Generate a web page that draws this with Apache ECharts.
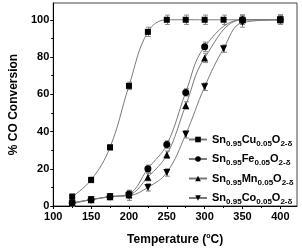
<!DOCTYPE html>
<html><head><meta charset="utf-8">
<script src="https://cdn.jsdelivr.net/npm/echarts@6/dist/echarts.min.js"></script>
<style>html,body{margin:0;padding:0;background:#fff}#c{width:302px;height:251px}</style>
</head><body><div id="c"></div>
<script>
// Data
const cuTemps = [125, 150, 175, 200, 225, 250, 275, 300, 325, 350, 400];
const cuValues = [5, 14, 31.5, 64.5, 93.5, 100, 100, 100, 100, 100, 100];
const cuErrors = [1.5, 1.5, 1.5, 2, 2.5, 2.5, 2.5, 2.5, 2.5, 2.5, 2.5];

const feTemps = [125, 150, 175, 200, 225, 250, 275, 300, 350, 400];
const feValues = [1.7, 3.4, 5, 6.5, 20, 33, 61, 85.5, 100, 100];
const feErrors = [1.5, 1.5, 1.5, 2, 2, 2, 2, 2.5, 2.5, 2.5];

const mnTemps = [125, 150, 175, 200, 225, 250, 275, 300, 350, 400];
const mnValues = [1.7, 3.4, 5, 6, 15.5, 27.5, 54, 79.5, 100, 100];
const mnErrors = [1.5, 1.5, 1.5, 2, 2, 2, 2, 2.5, 2.5, 2.5];

const coTemps = [125, 150, 175, 200, 225, 250, 275, 300, 325, 350, 400];
const coValues = [1.2, 3.4, 5, 5.5, 10, 18, 38.5, 64, 84.5, 98.5, 100];
const coErrors = [1.5, 1.5, 1.5, 2.5, 2, 2, 2, 2, 2, 2.5, 2.5];

const seriesNames = ['Cu', 'Fe', 'Mn', 'Co'];
const xTickLabels = [100, 150, 200, 250, 300, 350, 400];
const xMinorTicks = [125, 175, 225, 275, 325, 375];
const yTickLabels = [0, 20, 40, 60, 80, 100];
const yMinorTicks = [10, 30, 50, 70, 90];

const legendName = el => 'Sn0.95' + el + '0.05O2-δ';
const legendRich = el => '{n|Sn}{s|0.95}{n|' + el + '}{s|0.05}{n|O}{s|2-δ}';

const FONT = 'Liberation Sans, Arial, sans-serif';
const LINE = '#7a7a7a';

function pairs(xs, ys) { return xs.map((x, i) => [x, ys[i]]); }
function triples(xs, ys, es) { return xs.map((x, i) => [x, ys[i], es[i]]); }

const symbols = {
  Cu: { symbol: 'rect', size: 6 },
  Fe: { symbol: 'circle', size: 7 },
  Mn: { symbol: 'triangle', size: 7 },
  Co: { symbol: 'path://M0,0 L10,0 L5,9 Z', size: 7 }
};
const dataSets = {
  Cu: [cuTemps, cuValues, cuErrors],
  Fe: [feTemps, feValues, feErrors],
  Mn: [mnTemps, mnValues, mnErrors],
  Co: [coTemps, coValues, coErrors]
};

const series = [];
seriesNames.forEach(el => {
  const [xs, ys, es] = dataSets[el];
  series.push({
    type: 'custom',
    silent: true,
    z: 1,
    data: triples(xs, ys, es),
    renderItem: function (params, api) {
      const x = api.value(0), y = api.value(1), e = api.value(2);
      const lo = api.coord([x, y - e]);
      const hi = api.coord([x, y + e]);
      const st = { stroke: '#8a8a8a', lineWidth: 1 };
      const cx = Math.round(lo[0]) + 0.5;
      return {
        type: 'group',
        children: [
          { type: 'line', shape: { x1: cx, y1: lo[1], x2: cx, y2: hi[1] }, style: st },
          { type: 'line', shape: { x1: cx - 2.5, y1: lo[1], x2: cx + 2.5, y2: lo[1] }, style: st },
          { type: 'line', shape: { x1: cx - 2.5, y1: hi[1], x2: cx + 2.5, y2: hi[1] }, style: st }
        ]
      };
    }
  });
});
seriesNames.forEach(el => {
  const [xs, ys] = dataSets[el];
  series.push({
    name: legendName(el),
    type: 'line',
    z: 3,
    data: pairs(xs, ys),
    smooth: 0.4,
    symbol: symbols[el].symbol,
    symbolSize: symbols[el].size,
    showAllSymbol: true,
    itemStyle: { color: '#000' },
    lineStyle: { color: LINE, width: 1 },
    emphasis: { disabled: true }
  });
});

const chart = echarts.init(document.getElementById('c'), null, { renderer: 'canvas' });
chart.setOption({
  animation: false,
  backgroundColor: '#fff',
  grid: { left: 40, right: 5, top: 3, bottom: 39, show: true, borderColor: '#444', borderWidth: 1, backgroundColor: 'transparent' },
  legend: {
    orient: 'vertical',
    left: 183,
    top: 129,
    itemWidth: 18,
    itemHeight: 7,
    itemGap: 6,
    data: seriesNames.map(legendName),
    formatter: function (name) {
      const el = seriesNames.find(e => legendName(e) === name);
      return legendRich(el);
    },
    textStyle: {
      fontFamily: FONT,
      rich: {
        n: { fontSize: 11, fontWeight: 'bold', fontFamily: FONT, color: '#000', lineHeight: 16, verticalAlign: 'middle' },
        s: { fontSize: 8, fontWeight: 'bold', fontFamily: FONT, color: '#000', lineHeight: 16, verticalAlign: 'bottom', padding: [5, 0, 0, 0] }
      }
    }
  },
  xAxis: [{
    type: 'value', min: 100, max: 422, interval: 50,
    axisLine: { show: true, lineStyle: { color: '#000', width: 1 } },
    axisTick: { show: true, length: 3, inside: false, customValues: xTickLabels, lineStyle: { color: '#000' } },
    axisLabel: { customValues: xTickLabels, fontFamily: FONT, fontWeight: 'bold', fontSize: 11, color: '#000', margin: 5 },
    splitLine: { show: false },
    name: '{t|Temperature (}{u|o}{t|C)}',
    nameLocation: 'middle',
    nameGap: 27,
    nameTextStyle: {
      rich: {
        t: { fontSize: 12, fontWeight: 'bold', fontFamily: FONT, color: '#000', lineHeight: 14, verticalAlign: 'middle' },
        u: { fontSize: 7, fontWeight: 'bold', fontFamily: FONT, color: '#000', lineHeight: 14, verticalAlign: 'top', padding: [0, 0, 6, 0] }
      }
    }
  }, {
    type: 'value', min: 100, max: 422, gridIndex: 0, position: 'bottom',
    axisLine: { show: false },
    axisTick: { show: true, length: 2, customValues: xMinorTicks, lineStyle: { color: '#000' } },
    axisLabel: { show: false },
    splitLine: { show: false }
  }],
  yAxis: [{
    type: 'value', min: 0, max: 109, interval: 20,
    axisLine: { show: true, lineStyle: { color: '#000', width: 1 } },
    axisTick: { show: true, length: 3, customValues: yTickLabels, lineStyle: { color: '#000' } },
    axisLabel: { customValues: yTickLabels, fontFamily: FONT, fontWeight: 'bold', fontSize: 11, color: '#000', margin: 4 },
    splitLine: { show: false },
    name: '% CO Conversion',
    nameLocation: 'middle',
    nameGap: 27,
    nameTextStyle: { fontSize: 12, fontWeight: 'bold', fontFamily: FONT, color: '#000' }
  }, {
    type: 'value', min: 0, max: 109, position: 'left',
    axisLine: { show: false },
    axisTick: { show: true, length: 2, customValues: yMinorTicks, lineStyle: { color: '#000' } },
    axisLabel: { show: false },
    splitLine: { show: false }
  }],
  series: series
});
</script>
</body></html>
